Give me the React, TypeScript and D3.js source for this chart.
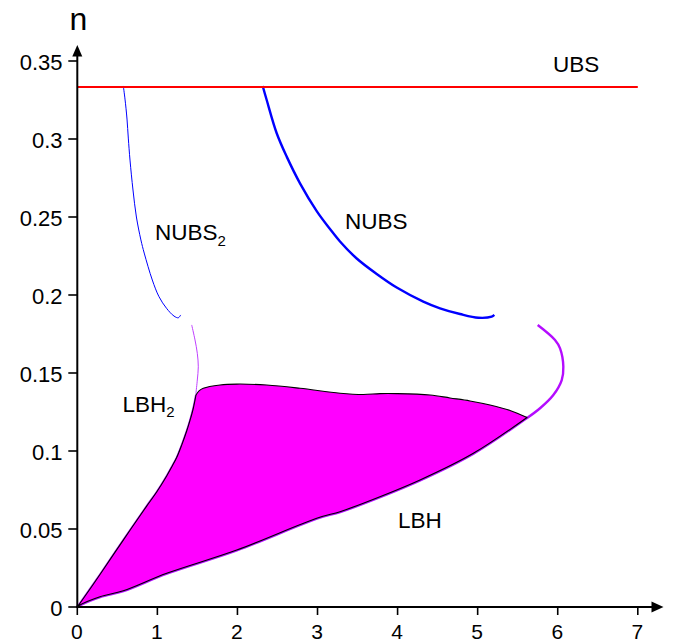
import React from 'react';
import * as d3 from 'd3';

const W = 675;
const H = 642;
const FONT = '"Liberation Sans", Arial, Helvetica, sans-serif';

// ticks
const xTicks = [0, 1, 2, 3, 4, 5, 6, 7];
const yTicks = [0, 0.05, 0.1, 0.15, 0.2, 0.25, 0.3, 0.35];
const yTickLabels = ['0', '0.05', '0.1', '0.15', '0.2', '0.25', '0.3', '0.35'];

// UBS horizontal line
const ubsLevel = 1 / 3;
const ubsExtent = [0, 7];

// NUBS2 (thin blue)
const nubs2X = [0.5745, 0.5957, 0.6207, 0.6369, 0.6582, 0.6956, 0.7381, 0.7943, 0.8355, 0.9367, 1.0204, 1.114, 1.2077, 1.2614, 1.2914];
const nubs2N = [0.334, 0.3256, 0.3128, 0.3006, 0.2865, 0.2673, 0.25, 0.2353, 0.2269, 0.2096, 0.1989, 0.1915, 0.1865, 0.1854, 0.1872];

// NUBS (thick blue)
const nubsX = [2.3155, 2.3654, 2.4903, 2.6152, 2.7813, 2.9899, 3.156, 3.2809, 3.4895, 3.7392, 3.989, 4.3212, 4.5298, 4.7796, 5.0081, 5.1755, 5.2079];
const nubsN = [0.334, 0.325, 0.3037, 0.2887, 0.2716, 0.2538, 0.2423, 0.2343, 0.2234, 0.2135, 0.2048, 0.1958, 0.1915, 0.1878, 0.1854, 0.1861, 0.1872];

// LBH2 upper thin violet branch
const lbh2X = [1.4287, 1.47, 1.4987, 1.5112, 1.4987, 1.4824, 1.4824];
const lbh2N = [0.1808, 0.1712, 0.1626, 0.154, 0.1455, 0.137, 0.1359];

// LBH right violet loop
const lbhLoopX = [5.75, 5.966, 6.029, 6.07, 6.05, 5.945, 5.779, 5.613];
const lbhLoopN = [0.1808, 0.1712, 0.1658, 0.154, 0.1455, 0.1359, 0.1274, 0.121];

// filled region: top edge (corner -> tip)
const topX = [1.4824, 1.52, 1.5736, 1.7822, 1.9907, 2.3654, 2.7813, 3.2809, 3.5719, 3.7805, 3.989, 4.4049, 4.6547, 4.9045, 5.1543, 5.4041, 5.6163];
const topN = [0.1359, 0.1385, 0.1402, 0.1423, 0.1429, 0.1423, 0.1402, 0.137, 0.1362, 0.1368, 0.1368, 0.1359, 0.134, 0.1321, 0.1295, 0.126, 0.1215];

// lower edge (tip -> origin) = LBH
const lowX = [5.6163, 4.9457, 4.28, 3.5719, 3.2809, 2.9899, 1.9907, 1.1165, 0.5745, 0.2835, 0.0337, 0];
const lowN = [0.1215, 0.0985, 0.0814, 0.0665, 0.0611, 0.0569, 0.0365, 0.0216, 0.0104, 0.0066, 0.0013, 0];

// left edge (origin -> corner) = LBH2 lower part
const leftX = [0, 0.0337, 0.2835, 0.5745, 0.8667, 0.9916, 1.1165, 1.179, 1.2414, 1.3039, 1.3663, 1.4075, 1.4487, 1.4824];
const leftN = [0, 0.0024, 0.0208, 0.0429, 0.0647, 0.0737, 0.084, 0.0897, 0.0958, 0.1038, 0.1128, 0.1196, 0.1274, 0.1359];

const x = d3.scaleLinear().domain([0, 7]).range([77.3, 637.8]);
const y = d3.scaleLinear().domain([0, 0.35]).range([607, 61]);

const zip = (xs: number[], ns: number[]) => xs.map((v, i) => [v, ns[i]] as [number, number]);

const line = d3
  .line<[number, number]>()
  .x((d) => x(d[0]))
  .y((d) => y(d[1]))
  .curve(d3.curveCatmullRom.alpha(0.5));

export default function App() {
  const nubs2 = zip(nubs2X, nubs2N);
  const nubs = zip(nubsX, nubsN);
  const lbh2 = zip(lbh2X, lbh2N);
  const loop = zip(lbhLoopX, lbhLoopN);
  const top = zip(topX, topN);
  const low = zip(lowX, lowN);
  const left = zip(leftX, leftN);

  const fillPath =
    (line(top) || '') +
    (line(low) || '').replace(/^M/, 'L') +
    (line(left) || '').replace(/^M/, 'L') +
    'Z';

  const violet = '#b40cff';
  const x0 = x(0);
  const y0 = y(0);

  return (
    <svg
      width={W}
      height={H}
      style={{ position: 'absolute', left: 0, top: 0, background: '#fff' }}
      fontFamily={FONT}
    >
      <rect width={W} height={H} fill="#fff" />

      {/* violet curves under the fill */}
      <path d={line(loop) || ''} fill="none" stroke={violet} strokeWidth={2.4} />
      <path d={line(low) || ''} fill="none" stroke={violet} strokeWidth={3.2} />
      <path d={line(left) || ''} fill="none" stroke={violet} strokeWidth={2} />
      <path d={line(lbh2) || ''} fill="none" stroke="#c040ff" strokeWidth={1} />

      {/* filled region */}
      <path d={fillPath} fill="#ff00ff" stroke="#000" strokeWidth={1.1} strokeLinejoin="round" />

      {/* NUBS curves */}
      <path d={line(nubs2) || ''} fill="none" stroke="#0000ff" strokeWidth={1} />
      <path d={line(nubs) || ''} fill="none" stroke="#0000ff" strokeWidth={2.4} />

      {/* UBS line */}
      <line
        x1={x(ubsExtent[0])}
        x2={x(ubsExtent[1])}
        y1={y(ubsLevel)}
        y2={y(ubsLevel)}
        stroke="#ff0000"
        strokeWidth={2}
      />

      {/* axes */}
      <line x1={x0} x2={x0} y1={y0 + 1} y2={54} stroke="#000" strokeWidth={2} />
      <path d={`M${x0},45 L${x0 - 5},56.5 L${x0 + 5},56.5 Z`} fill="#000" />
      <line x1={x0 - 1} x2={653} y1={y0} y2={y0} stroke="#000" strokeWidth={2} />
      <path d={`M663.5,${y0} L651.5,${y0 - 5.5} L651.5,${y0 + 5.5} Z`} fill="#000" />

      {yTicks.map((t, i) => (
        <g key={`y${i}`}>
          <line x1={68.3} x2={x0} y1={y(t)} y2={y(t)} stroke="#000" strokeWidth={1.6} />
          <text x={62.5} y={y(t) + 9.3} fontSize={22} textAnchor="end" fill="#000">
            {yTickLabels[i]}
          </text>
        </g>
      ))}
      {xTicks.map((t) => (
        <g key={`x${t}`}>
          <line x1={x(t)} x2={x(t)} y1={y0} y2={615} stroke="#000" strokeWidth={1.6} />
          <text x={x(t) - 0.5} y={639} fontSize={21} textAnchor="middle" fill="#000">
            {String(t)}
          </text>
        </g>
      ))}

      {/* labels */}
      <text x={69.5} y={29.5} fontSize={32} fill="#000">n</text>
      <text x={553} y={71.5} fontSize={22.5} fill="#000">UBS</text>
      <text x={345} y={229.3} fontSize={22.5} fill="#000">NUBS</text>
      <text x={155} y={240} fontSize={22.5} fill="#000">
        NUBS<tspan fontSize={15} dy={6}>2</tspan>
      </text>
      <text x={122.5} y={411.7} fontSize={22.5} fill="#000">
        LBH<tspan fontSize={15} dy={5.5}>2</tspan>
      </text>
      <text x={398} y={528.3} fontSize={22.5} fill="#000">LBH</text>
    </svg>
  );
}
